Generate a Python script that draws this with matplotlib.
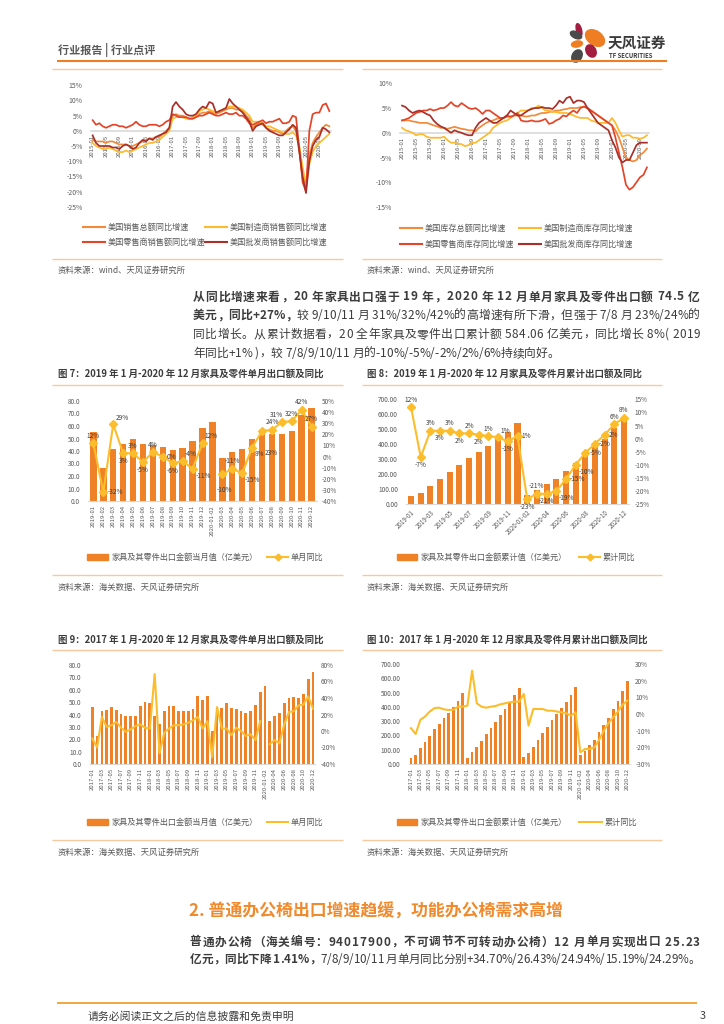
import numpy as np
import matplotlib.pyplot as plt
from matplotlib.patches import Ellipse, Rectangle

plt.rcParams['font.family'] = ['Noto Sans CJK SC', 'DejaVu Sans']
plt.rcParams['axes.unicode_minus'] = False

# ---------------- data ----------------
months_1520 = [f'{y}-{m:02d}' for y in range(2015, 2021) for m in range(1, 13)]

# US sales yoy (%), 2015-01 .. 2020-12
sales_total = [-3, -3.5, -3.5, -3.5, -4, -3.5, -3.5, -4, -4.5, -4.5, -4.5, -5,
               -5, -4.5, -4, -3.5, -3, -2.5, -2.5, -2, -2, -1, 0, 1,
               5, 5.5, 5, 5, 4.5, 4, 4, 4.5, 5.5, 6, 6, 6.5,
               6, 5.5, 6, 6.5, 7, 7.5, 7.5, 7, 7, 6.5, 5, 4,
               1, 2, 2.5, 2, 1, 0.5, 0, 0, -0.5, -1, 0, 1,
               1.5, 0, -6, -16, -17, -8, -4, -2, -0.5, 1, 2, 1.5]
sales_mfr = [-4, -5, -5.5, -6, -6, -5.5, -6, -6.5, -7, -7, -6.5, -7,
             -6.5, -6, -5.5, -5, -4.5, -4, -4, -3.5, -3, -2, -1, 0,
             4, 4.5, 4.5, 4.5, 4, 4, 4.5, 5, 6.5, 7, 7.5, 7,
             6.5, 6, 6.5, 7, 7.5, 8, 8, 8, 7.5, 7, 6, 5,
             3, 3, 3, 2.5, 1.5, 1.5, 1, 0.5, 0, -0.5, -1, -1,
             -0.5, -1.5, -5, -12, -18, -11, -7, -5, -4, -3, -2, -1]
sales_retail = [3.5, 2, 2.5, 1.5, 1, 1.5, 2, 2, 1.5, 1.5, 1, 1.5,
                2, 3, 2, 1.5, 1.5, 2, 2, 2, 1.5, 2, 3, 3.5,
                5.5, 5, 4.5, 4.5, 4.5, 4, 4, 4.5, 5, 5, 5.5, 6,
                5.5, 5, 5, 5.5, 6, 5.5, 5.5, 6, 5, 5, 4, 2.5,
                2, 2.5, 3, 3.5, 2.5, 3, 3, 3.5, 4, 2.5, 2.5, 3,
                5, 4.5, -6, -17, -20, 0, 5.5, 6, 6, 8.5, 9, 6.5]
sales_whole = [-1.5, -4, -5, -5, -5, -5, -5.5, -5.5, -6, -5, -4.5, -5,
               -6, -5.5, -4, -3, -3.5, -2.5, -3, -2, -1.5, -1, -0.5, 1,
               8, 9.5, 8, 7, 5.5, 5, 5, 5.5, 7, 8, 7.5, 9.5,
               9, 6, 6.5, 7, 7.5, 10.5, 9, 8, 7, 6, 4.5, 3,
               0, 1.5, 2, 2.5, 1, 0, -0.5, -1, -1.5, -1.5, -0.5, 0.5,
               2, 1, -7, -15, -20.5, -10, -5, -3, -2, 1, 0.5, -0.5]

# US inventories yoy (%), 2015-01 .. 2020-11
inv_total = [2.5, 2.5, 2.5, 2.3, 2.2, 2, 2, 2, 1.8, 1.5, 1.3, 1,
             1, 0.8, 1, 1.2, 1, 0.8, 0.7, 0.5, 0.5, 0.3, 1, 1.5,
             2, 2.3, 2.5, 2.8, 3, 3, 3.2, 3.3, 3.5, 3.5, 3.5, 3.3,
             3.3, 3.5, 3.5, 3.8, 4, 4, 4.2, 4.3, 4.5, 4.5, 4.7, 4.8,
             5, 5, 5, 5.2, 5.2, 5, 4.5, 4, 3.5, 3, 2.5, 2,
             1.5, 0.5, -1, -3, -5, -5.5, -5.8, -5.5, -4.5, -4, -3.2]
inv_mfr = [1, 0.5, 0.3, 0, -0.5, -0.3, -0.3, -0.8, -1, -1, -1, -1,
           -0.8, -1.5, -2, -2, -2.2, -2.3, -2.7, -2.5, -2, -2, -1.5, -1,
           -0.5, 0, 1, 1.5, 2, 2.3, 2.5, 3, 3.5, 4, 4.5, 4.5,
           4.5, 5, 5, 5.5, 5, 4.5, 4.5, 4.2, 4.2, 4, 4, 4,
           3.8, 3.5, 3.2, 3, 3, 3, 2.5, 2.3, 2, 2, 2, 2,
           3, 2, 0.5, -0.8, -0.5, -0.5, -1, -1, -1.2, -1, -0.5]
inv_retail = [2.5, 2.7, 3, 3.5, 4, 4.2, 4.5, 4.5, 4.8, 4.5, 4.7, 5,
              5, 5.5, 6.2, 5.5, 5.3, 6, 5.5, 5, 4.8, 5, 4.5, 3.8,
              4.5, 4.5, 4, 3.5, 3, 3, 3.5, 3.2, 3.5, 4, 2.5, 2.3,
              2.3, 2.5, 2.3, 2.3, 2.5, 2.8, 1.8, 2, 2.5, 2.8, 3.5, 3.3,
              4, 4.5, 4, 5, 5.3, 5, 4.5, 4, 3.5, 3, 2.5, 2,
              1.5, -1, -4, -7, -10.5, -11.5, -11, -10, -9, -8.5, -7]
inv_whole = [5.5, 5.2, 4.5, 4, 4.3, 4.5, 4.2, 3.8, 3.5, 2.5, 1.8, 1.3,
             1, 0.5, 0, 0.5, 0.2, 0, -0.3, -0.5, -0.5, 1, 2, 2.5,
             3, 2.5, 2, 2, 2.5, 3, 3.5, 4.5, 4, 3.5, 3.5, 4,
             4.5, 4.8, 5, 5, 5.2, 5, 5, 4.8, 5.5, 6.5, 6, 7,
             7.3, 6, 6.5, 6.5, 6.2, 5, 4, 3, 2, 1.5, 1, 0.5,
             -1.5, -3, -5, -6, -5.5, -5.5, -4, -2.5, -2, -2, -2]

# furniture & parts exports
cats_1920 = ([f'2019-{m:02d}' for m in range(1, 13)] + ['2020-01-02'] +
             [f'2020-{m:02d}' for m in range(3, 13)])
cats_1720 = ([f'{y}-{m:02d}' for y in (2017, 2018, 2019) for m in range(1, 13)] +
             ['2020-01-02'] + [f'2020-{m:02d}' for m in range(3, 13)])

month_1920 = [55.2, 26.4, 41.6, 45.3, 49.3, 45.3, 44.8, 42.9, 41.1, 42.7, 48.0, 58.1,
              63.2, 34.7, 38.9, 41.6, 49.3, 53.3, 53.9, 53.5, 56.3, 68.5, 74.5]
month_yoy_1920 = [12, -32, 29, 3, 3, -5, 4, 0, -6, -4, -11, 12,
                  np.nan, -16, -11, -15, 8, 23, 24, 31, 32, 42, 27]
month_yoy_lab = ['12%', '-32%', '29%', '3%', '3%', '-5%', '4%', '0%', '-6%', '-4%', '-11%', '12%',
                 '-10%', '', '-11%', '-15%', '8%', '23%', '24%', '31%', '32%', '42%', '27%']
month_lab_pos = ['a', 'r', 'ar', 'b', 'a', 'b', 'a', 'r', 'b', 'ar', 'br', 'ar',
                 'x', 'a', 'a', 'br', 'br', 'bb', 'a', 'al', 'a', 'a', 'a']

cum_1920 = [52, 78, 122, 167, 216, 261, 308, 348, 389, 433, 482, 540,
            60, 92, 132, 170, 222, 274, 325, 382, 438, 509, 584.06]
cum_yoy_1920 = [12, -7, 3, 3, 3, 2, 2, 1.5, 1, 0.5, -1, 1,
                -23, -21, -21, -20, -15.5, -10, -5.4, -2, 1.5, 5.5, 8]
cum_yoy_lab = ['12%', '-7%', '3%', '3%', '3%', '2%', '2%', '2%', '1%', '1%', '-1%', '1%',
               '-23%', '-21%', '-21%', '-19%', '-15%', '-10%', '-5%', '-2%', '2%', '6%', '8%']
cum_lab_pos = ['a', 'b', 'a', 'b', 'a', 'b', 'a', 'b', 'a', 'ar', 'b', 'r',
               'b', 'a', 'b', 'br', 'r', 'br', 'r', 'r', 'r', 'a', 'a']

month_1718 = [46.0, 22.6, 42.6, 44.0, 46.4, 44.0, 40.2, 39.0, 39.0, 39.0, 46.6, 50.4,
              49.0, 39.0, 32.0, 43.0, 47.0, 47.0, 42.6, 42.6, 42.6, 44.5, 55.3, 51.5]
month_yoy_1718 = [-9, -20, 17, 5, 7, 11, 4, -1, 2, 6, 8, 4,
                  3, 69, -27, -2, 3, 7, 7, 8, 10, 13, 17, 3]
cum_1718 = [44, 63, 112, 154, 196, 245, 280, 324, 359, 401, 443, 494,
            44, 84, 117, 161, 210, 254, 294, 343, 382, 431, 483, 531]
cum_yoy_1718 = [-8.5, -12, -3.5, -1.5, 1.5, 3.5, 3.8, 2.8, 2.4, 2.6, 4.4, 4.4,
                5, 26, 6.4, 4.4, 3.8, 4.4, 4.8, 5.8, 6.4, 7, 7.4, 7.4]

# ---------------- style ----------------
W, H = 724, 1024
ORANGE = '#EF7D22'
SEP = '#F7C9A0'
BAR = '#EF8227'
LINE = '#FCBD2C'
TXT = '#3C3C3C'
GRAY = '#595959'
C4 = ['#F28A3A', '#FDBA2C', '#E44528', '#A9302A']

fig = plt.figure(figsize=(W / 100, H / 100), dpi=100)
bg = fig.add_axes([0, 0, 1, 1])
bg.set_xlim(0, W)
bg.set_ylim(H, 0)
bg.axis('off')
rend = fig.canvas.get_renderer()


def px_axes(x0, y0, x1, y1):
    a = fig.add_axes([x0 / W, 1 - y1 / H, (x1 - x0) / W, (y1 - y0) / H])
    a.patch.set_alpha(0)
    return a


def hl(x0, x1, y, color=SEP, lw=1.0):
    bg.plot([x0, x1], [y, y], color=color, lw=lw, solid_capstyle='butt')


def text_w(s, size, weight):
    t = bg.text(0, 0, s, fontsize=size, fontweight=weight)
    w = t.get_window_extent(rend).width
    t.remove()
    return w


def line_text(x0, y, parts, size, x1=None):
    # draws one line of mixed-weight text; spreads characters to reach x1 when given
    chars = [(c, w) for s, w in parts for c in s]
    bar = {w: text_w('||', size, w) for _, w in chars}
    widths = [text_w('|' + c + '|', size, w) - bar[w] for c, w in chars]
    gap = 0 if x1 is None else (x1 - x0 - sum(widths)) / (len(chars) - 1)
    x = x0
    for (c, w), wd in zip(chars, widths):
        bg.text(x, y, c, fontsize=size, fontweight=w, color=TXT, va='center', ha='left')
        x += wd + gap


def leg_line(x0, x1, y, color, text, marker=None):
    bg.plot([x0, x1], [y, y], color=color, lw=1.5)
    if marker:
        bg.plot([(x0 + x1) / 2], [y], marker=marker, ms=3.5, color=color)
    bg.text(x1 + 3, y, text, fontsize=5.9, color=GRAY, va='center')


def leg_bar(x0, x1, y, text):
    bg.add_patch(Rectangle((x0, y - 3), x1 - x0, 6, color=BAR))
    bg.text(x1 + 4, y, text, fontsize=5.9, color=GRAY, va='center')


def style_ticks(a, size=4.6):
    a.tick_params(length=0, labelsize=size, labelcolor=GRAY)
    for s in a.spines.values():
        s.set_visible(False)


# ---------------- header ----------------
bg.text(58, 50, '行业报告 | 行业点评', fontsize=8, fontweight='bold', color=GRAY, va='center')
hl(57, 667, 61, ORANGE, 1.5)
for (cx, cy, w, h, ang, col) in [(579, 30, 5, 13, -15, '#A31D3F'), (576, 35, 12, 6.5, 25, '#4A4A4A'),
                                   (595, 38, 21, 14, 35, ORANGE), (577, 44, 11, 6, -10, ORANGE),
                                   (591, 51, 9.5, 13, -30, '#A31D3F'), (577, 56, 9.5, 13, 30, '#4A4A4A')]:
    bg.add_patch(Ellipse((cx, cy), w, h, angle=ang, color=col))
bg.text(608, 43, '天风证券', fontsize=10.5, fontweight='bold', color='#3A3A3A', va='center')
bg.text(609, 56, 'TF SECURITIES', fontsize=4.3, fontweight='bold', color='#3A3A3A', va='center')


# ---------------- top line charts ----------------
def top_chart(rect, series, ylim, n):
    a = px_axes(*rect)
    xs = np.arange(n)
    for vals, c in zip(series, C4):
        a.plot(xs, vals, color=c, lw=1.25, zorder=3)
    a.set_xlim(-0.5, n - 0.5)
    a.set_ylim(*ylim)
    ticks = list(range(ylim[0], ylim[1] + 1, 5))
    a.set_yticks(ticks)
    a.set_yticklabels([f'{v}%' for v in ticks])
    style_ticks(a, 4.9)
    a.spines['bottom'].set_visible(True)
    a.spines['bottom'].set_position(('data', 0))
    a.spines['bottom'].set_color('#D9D9D9')
    a.spines['bottom'].set_linewidth(1.2)
    idx = list(range(0, 72, 4))
    a.set_xticks(idx)
    a.set_xticklabels([months_1520[i] for i in idx], rotation=90, fontsize=4.3)
    a.tick_params(axis='y', pad=6)
    a.tick_params(axis='x', pad=3)
    return a


hl(52, 343, 69)
top_chart((91, 85.3, 331, 206.7), [sales_total, sales_mfr, sales_retail, sales_whole], (-25, 15), 72)
leg_line(83, 105, 227, C4[0], '美国销售总额同比增速')
leg_line(205, 227, 227, C4[1], '美国制造商销售额同比增速')
leg_line(83, 105, 242, C4[2], '美国零售商销售额同比增速')
leg_line(205, 227, 242, C4[3], '美国批发商销售额同比增速')
hl(52, 343, 259)
bg.text(58, 270, '资料来源：wind、天风证券研究所', fontsize=6, color=GRAY, va='center')

hl(362, 662, 69)
top_chart((400.3, 83.3, 648.7, 207), [inv_total, inv_mfr, inv_retail, inv_whole], (-15, 10), 71)
leg_line(400, 422, 228, C4[0], '美国库存总额同比增速')
leg_line(519, 541, 228, C4[1], '美国制造商库存同比增速')
leg_line(400, 422, 244, C4[2], '美国零售商库存同比增速')
leg_line(519, 541, 244, C4[3], '美国批发商库存同比增速')
hl(362, 662, 259)
bg.text(367, 270, '资料来源：wind、天风证券研究所', fontsize=6, color=GRAY, va='center')

# ---------------- paragraph ----------------
para1 = [
    [('从同比增速来看，20 年家具出口强于 19 年，2020 年 12 月单月家具及零件出口额 74.5 亿', 'bold')],
    [('美元，同比+27%，', 'bold'), ('较 9/10/11 月 31%/32%/42%的高增速有所下滑，但强于 7/8 月 23%/24%的', 'normal')],
    [('同比增长。从累计数据看，20 全年家具及零件出口累计额 584.06 亿美元，同比增长 8%( 2019', 'normal')],
    [('年同比+1% )，较 7/8/9/10/11 月的-10%/-5%/-2%/2%/6%持续向好。', 'normal')],
]
for i, parts in enumerate(para1):
    line_text(193, 297 + i * 18.7, parts, 8.5, None if i == 3 else 700)

# ---------------- combo charts ----------------
OFF = {'a': ((0, 2.5), 'center', 'bottom'), 'b': ((0, -2.5), 'center', 'top'),
       'r': ((3, 0), 'left', 'center'), 'ar': ((1.5, 2), 'left', 'bottom'),
       'al': ((1, 2.5), 'right', 'bottom'),
       'br': ((2, -2), 'left', 'top'), 'bb': ((2, -13), 'left', 'top'),
       'x': ((3, -13), 'left', 'top')}


def combo(rect, bars, blim, bticks, bfmt, yoy, ylim, yticks, cats, every, rot, bw, marker):
    a = px_axes(*rect)
    xs = np.arange(len(bars))
    a.bar(xs, bars, width=bw, color=BAR, zorder=2)
    a.set_xlim(-0.5, len(bars) - 0.5)
    a.set_ylim(*blim)
    a.set_yticks(bticks)
    a.set_yticklabels([bfmt.format(v) for v in bticks])
    a2 = a.twinx()
    a2.patch.set_alpha(0)
    a2.plot(xs, yoy, color=LINE, lw=1.5, marker=marker, ms=3.6, zorder=3)
    a2.set_ylim(*ylim)
    a2.set_yticks(yticks)
    a2.set_yticklabels([f'{v}%' for v in yticks])
    style_ticks(a)
    style_ticks(a2)
    a.spines['bottom'].set_visible(True)
    a.spines['bottom'].set_color('#D9D9D9')
    a.set_xticks(xs[::every])
    if rot == 45:
        a.set_xticklabels(cats[::every], rotation=45, ha='right', rotation_mode='anchor', fontsize=4.5)
    else:
        a.set_xticklabels(cats[::every], rotation=90, fontsize=4.3)
    a.tick_params(axis='y', pad=6)
    a2.tick_params(axis='y', pad=4)
    a.tick_params(axis='x', pad=3)
    return a, a2


def point_labels(a2, yoy, labs, pos, nan_anchor):
    for i, (v, s, p) in enumerate(zip(yoy, labs, pos)):
        if not s:
            continue
        yv = nan_anchor if np.isnan(v) else v
        off, ha, va = OFF[p]
        a2.annotate(s, (i, yv), xytext=off, textcoords='offset points',
                    ha=ha, va=va, fontsize=4.7, color=TXT)


TITLE = 6.8

# fig 7
bg.text(58, 374, '图 7：2019 年 1 月-2020 年 12 月家具及零件单月出口额及同比', fontsize=TITLE,
        fontweight='bold', color=TXT, va='center')
hl(52, 343, 385)
a, a2 = combo((88.4, 401, 316.6, 501), month_1920, (0, 80), list(range(0, 81, 10)), '{:.1f}',
              month_yoy_1920, (-40, 50), list(range(-40, 51, 10)), cats_1920, 1, 90, 0.65, 'D')
point_labels(a2, month_yoy_1920, month_yoy_lab, month_lab_pos, -10)
leg_bar(87, 108, 557, '家具及其零件出口金额当月值（亿美元）')
leg_line(267, 288, 557, LINE, '单月同比', marker='D')
hl(52, 343, 575)
bg.text(58, 587, '资料来源：海关数据、天风证券研究所', fontsize=6, color=GRAY, va='center')

# fig 8
bg.text(367, 374, '图 8：2019 年 1 月-2020 年 12 月家具及零件月累计出口额及同比', fontsize=TITLE,
        fontweight='bold', color=TXT, va='center')
hl(362, 662, 385)
a, a2 = combo((406.2, 399.3, 628.8, 504.3), cum_1920, (0, 700), list(range(0, 701, 100)), '{:.2f}',
              cum_yoy_1920, (-25, 15), list(range(-25, 16, 5)), cats_1920, 2, 45, 0.62, 'D')
point_labels(a2, cum_yoy_1920, cum_yoy_lab, cum_lab_pos, 0)
leg_bar(397, 417, 557, '家具及其零件出口金额累计值（亿美元）')
leg_line(579, 600, 557, LINE, '累计同比', marker='D')
hl(362, 662, 575)
bg.text(367, 587, '资料来源：海关数据、天风证券研究所', fontsize=6, color=GRAY, va='center')

# fig 9
bg.text(58, 640, '图 9：2017 年 1 月-2020 年 12 月家具及零件单月出口额及同比', fontsize=TITLE,
        fontweight='bold', color=TXT, va='center')
hl(52, 343, 650)
combo((89.9, 665, 315.4, 764), month_1718 + month_1920, (0, 80), list(range(0, 81, 10)), '{:.1f}',
      month_yoy_1718 + month_yoy_1920, (-40, 80), list(range(-40, 81, 20)), cats_1720, 2, 90, 0.58, None)
leg_bar(87, 108, 822, '家具及其零件出口金额当月值（亿美元）')
leg_line(267, 288, 822, LINE, '单月同比')
hl(52, 343, 840)
bg.text(58, 852, '资料来源：海关数据、天风证券研究所', fontsize=6, color=GRAY, va='center')

# fig 10
bg.text(367, 640, '图 10：2017 年 1 月-2020 年 12 月家具及零件月累计出口额及同比', fontsize=TITLE,
        fontweight='bold', color=TXT, va='center')
hl(362, 662, 650)
combo((408.6, 664, 629.7, 764), cum_1718 + cum_1920, (0, 700), list(range(0, 701, 100)), '{:.2f}',
      cum_yoy_1718 + cum_yoy_1920, (-30, 30), list(range(-30, 31, 10)), cats_1720, 2, 90, 0.58, None)
leg_bar(397, 417, 822, '家具及其零件出口金额累计值（亿美元）')
leg_line(579, 602, 822, LINE, '累计同比')
hl(362, 662, 840)
bg.text(367, 852, '资料来源：海关数据、天风证券研究所', fontsize=6, color=GRAY, va='center')

# ---------------- section 2 ----------------
bg.text(189, 912, '2. 普通办公椅出口增速趋缓，功能办公椅需求高增', fontsize=12.2, fontweight='bold',
        color='#F08A2C', va='center')
para2 = [
    [('普通办公椅（海关编号：94017900，不可调节不可转动办公椅）12 月单月实现出口 25.23', 'bold')],
    [('亿元，同比下降 1.41%，', 'bold'), ('7/8/9/10/11 月单月同比分别+34.70%/26.43%/24.94%/15.19%/24.29%。', 'normal')],
]
for i, parts in enumerate(para2):
    line_text(190, 942 + i * 17.5, parts, 8.4, 700)

hl(57, 697, 1003, '#F0A030', 1.3)
bg.text(88, 1016, '请务必阅读正文之后的信息披露和免责申明', fontsize=7.8, color=TXT, va='center')
bg.text(700, 1016, '3', fontsize=7.8, color=TXT, va='center')

fig.savefig('out.png', dpi=100)
